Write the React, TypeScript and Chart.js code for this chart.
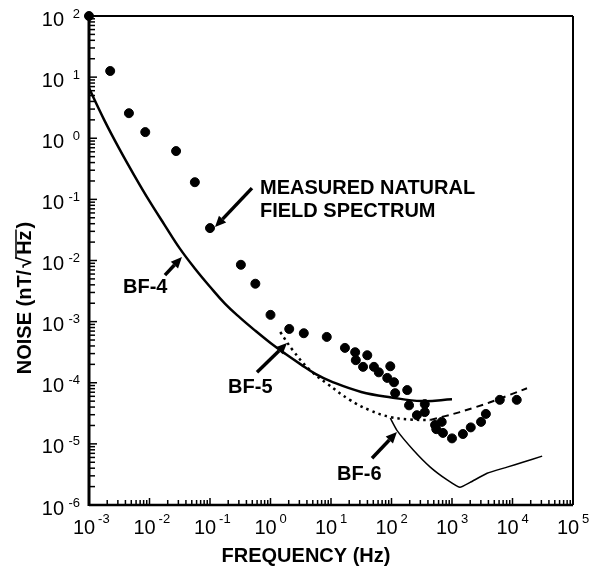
import { useEffect, useRef } from "react";
import { Chart, registerables } from "chart.js";

Chart.register(...registerables);

// Measured natural field spectrum (dots)
const measuredFreq = [
  0.001, 0.00224, 0.00457, 0.00851, 0.0275, 0.0562, 0.1, 0.324, 0.562, 1, 2.04, 3.55, 8.51,
  17.0, 25.1, 39.8, 25.7, 33.9, 51.3, 61.7, 95.5, 85.1, 110, 115, 182, 195, 355, 355, 263,
  525, 676, 550, 708, 1000, 1514, 2042, 3020, 3631, 6166, 11750,
];
const measuredNoise = [
  100, 12.6, 2.57, 1.26, 0.617, 0.191, 0.0339, 0.00851, 0.00417, 0.00129, 7.59e-4, 6.46e-4, 5.62e-4,
  3.72e-4, 3.16e-4, 2.82e-4, 2.34e-4, 1.82e-4, 1.82e-4, 1.48e-4, 1.86e-4, 1.2e-4, 1.02e-4, 6.76e-5, 7.59e-5, 4.27e-5, 4.47e-5, 3.31e-5, 2.95e-5,
  2.04e-5, 2.29e-5, 1.74e-5, 1.51e-5, 1.23e-5, 1.45e-5, 1.86e-5, 2.29e-5, 3.09e-5, 5.25e-5, 5.25e-5,
];

// BF-4 (thick solid)
const bf4Freq = [0.001, 0.00178, 0.00316, 0.00562, 0.01, 0.0178, 0.0316, 0.0562, 0.1, 0.178, 0.316, 0.562, 1, 1.78, 3.16, 5.62, 10, 31.6, 100, 316, 1000];
const bf4Noise = [6.61, 2.0, 0.676, 0.245, 0.0933, 0.038, 0.0158, 0.00741, 0.00372, 0.00195, 0.00115, 7.08e-4, 4.47e-4, 2.95e-4, 2.0e-4, 1.38e-4, 1.05e-4, 7.08e-5, 5.75e-5, 5.01e-5, 5.37e-5];

// BF-5 (dotted, then dashed at high frequency)
const bf5Freq = [1.45, 2.34, 4.47, 8.51, 20.4, 43.7, 95.5, 204, 437];
const bf5Noise = [6.76e-4, 3.39e-4, 1.62e-4, 9.77e-5, 5.25e-5, 3.55e-5, 2.75e-5, 2.51e-5, 2.45e-5];
const bf5HighFreq = [437, 1349, 4266, 17378];
const bf5HighNoise = [2.45e-5, 3.31e-5, 4.79e-5, 8.13e-5];

// BF-6 (thin solid)
const bf6Freq = [95.5, 123, 229, 437, 832, 1349, 1995, 3802, 8128, 14791, 30903];
const bf6Noise = [2.63e-5, 1.66e-5, 7.94e-6, 4.17e-6, 2.57e-6, 1.95e-6, 2.34e-6, 3.31e-6, 4.17e-6, 5.01e-6, 6.31e-6];

// Axis decades (exponents of ten)
const xExponents = [-3, -2, -1, 0, 1, 2, 3, 4, 5];
const yExponents = [-6, -5, -4, -3, -2, -1, 0, 1, 2];

const xTitle = "FREQUENCY (Hz)";
const yTitleParts = ["NOISE (nT/", "\u221A", "Hz", ")"];

// Annotation labels (data coordinates)
const labelTexts = [["MEASURED NATURAL", "FIELD SPECTRUM"], ["BF-4"], ["BF-5"], ["BF-6"]];
const labelFreq = [0.67, 0.00365, 0.199, 12.6];
const labelNoise = [[0.122, 0.0513], [0.00293], [6.76e-5], [2.55e-6]];
// Arrows: from -> to (data coordinates)
const arrowFromFreq = [0.494, 0.018, 0.598, 47.6];
const arrowFromNoise = [0.153, 0.00577, 1.49e-4, 5.83e-6];
const arrowToFreq = [0.121, 0.0344, 1.875, 123];
const arrowToNoise = [0.0352, 0.01138, 4.45e-4, 1.56e-5];

const FONT = '"Liberation Sans", Arial, Helvetica, sans-serif';

const zip = (xs: number[], ys: number[]) => xs.map((x, i) => ({ x, y: ys[i] }));

const overlayPlugin = {
  id: "overlay",
  afterDraw(chart: any) {
    const { ctx, chartArea: a, scales } = chart;
    const xs = scales.x;
    const ys = scales.y;
    ctx.save();
    ctx.strokeStyle = "#000";
    ctx.fillStyle = "#000";
    const line = (x1: number, y1: number, x2: number, y2: number, w: number) => {
      ctx.lineWidth = w;
      ctx.beginPath();
      ctx.moveTo(x1, y1);
      ctx.lineTo(x2, y2);
      ctx.stroke();
    };
    // frame
    line(a.left, a.top, a.right, a.top, 2);
    line(a.right, a.top, a.right, a.bottom, 2);
    line(a.left, a.bottom, a.right, a.bottom, 2.5);
    line(a.left, a.top - 1, a.left, a.bottom + 1, 3);

    // inward minor/major ticks
    for (let e = yExponents[0]; e < yExponents[yExponents.length - 1]; e++) {
      for (let m = 1; m < 10; m++) {
        const py = ys.getPixelForValue(m * Math.pow(10, e));
        line(a.left, py, a.left + (m === 1 ? 8 : 6), py, 1.5);
      }
    }
    for (let e = xExponents[0]; e < xExponents[xExponents.length - 1]; e++) {
      for (let m = 1; m < 10; m++) {
        const px = xs.getPixelForValue(m * Math.pow(10, e));
        line(px, a.bottom, px, a.bottom - (m === 1 ? 7 : 5), 1.5);
      }
    }

    // tick labels
    ctx.textBaseline = "middle";
    for (const e of yExponents) {
      const py = ys.getPixelForValue(Math.pow(10, e));
      ctx.font = `20px ${FONT}`;
      ctx.textAlign = "right";
      ctx.fillText("10", a.left - 25, py + 4);
      ctx.font = `13px ${FONT}`;
      ctx.fillText(String(e), a.left - 9, py - 2);
    }
    for (const e of xExponents) {
      const px = xs.getPixelForValue(Math.pow(10, e));
      ctx.font = `20px ${FONT}`;
      ctx.textAlign = "center";
      ctx.fillText("10", px - 5, a.bottom + 23);
      const w = ctx.measureText("10").width;
      ctx.font = `13px ${FONT}`;
      ctx.textAlign = "left";
      ctx.fillText(String(e), px - 5 + w / 2 + 3, a.bottom + 14);
    }

    // axis titles
    ctx.font = `bold 20px ${FONT}`;
    ctx.textAlign = "center";
    ctx.fillText(xTitle, (a.left + a.right) / 2 - 25, a.bottom + 51);

    ctx.save();
    ctx.translate(25, 298);
    ctx.rotate(-Math.PI / 2);
    ctx.textAlign = "left";
    ctx.textBaseline = "middle";
    const gap = 2;
    const widths = yTitleParts.map((t) => ctx.measureText(t).width);
    const total = widths.reduce((s, w) => s + w, 0) + gap * (yTitleParts.length - 1);
    let cx = -total / 2;
    yTitleParts.forEach((t, i) => {
      ctx.fillText(t, cx, 0);
      if (i === 2) {
        // radical overline over "Hz"
        ctx.lineWidth = 1.5;
        ctx.beginPath();
        ctx.moveTo(cx - gap - 2, -9);
        ctx.lineTo(cx + widths[i] + 1, -9);
        ctx.stroke();
      }
      cx += widths[i] + gap;
    });
    ctx.restore();

    // annotations
    ctx.font = `bold 20px ${FONT}`;
    ctx.textAlign = "left";
    ctx.textBaseline = "alphabetic";
    labelTexts.forEach((lines, i) => {
      const px = xs.getPixelForValue(labelFreq[i]);
      lines.forEach((t, j) => {
        ctx.fillText(t, px, ys.getPixelForValue(labelNoise[i][j]));
      });
    });
    arrowFromFreq.forEach((_, i) => {
      const x1 = xs.getPixelForValue(arrowFromFreq[i]);
      const y1 = ys.getPixelForValue(arrowFromNoise[i]);
      const x2 = xs.getPixelForValue(arrowToFreq[i]);
      const y2 = ys.getPixelForValue(arrowToNoise[i]);
      const ang = Math.atan2(y2 - y1, x2 - x1);
      const hl = 11;
      const hw = 5;
      const bx = x2 - hl * Math.cos(ang);
      const by = y2 - hl * Math.sin(ang);
      ctx.lineCap = "butt";
      line(x1, y1, bx, by, 3.5);
      ctx.beginPath();
      ctx.moveTo(x2, y2);
      ctx.lineTo(bx + hw * Math.sin(ang), by - hw * Math.cos(ang));
      ctx.lineTo(bx - hw * Math.sin(ang), by + hw * Math.cos(ang));
      ctx.closePath();
      ctx.fill();
    });
    ctx.restore();
  },
};

export default function App() {
  const ref = useRef<HTMLCanvasElement | null>(null);
  useEffect(() => {
    if (!ref.current) return;
    const chart = new Chart(ref.current, {
      type: "scatter",
      data: {
        datasets: [
          {
            label: "BF-4",
            data: zip(bf4Freq, bf4Noise),
            showLine: true,
            borderColor: "#000",
            borderWidth: 2.5,
            pointRadius: 0,
            tension: 0.4,
          },
          {
            label: "BF-5",
            data: zip(bf5Freq, bf5Noise),
            showLine: true,
            borderColor: "#000",
            borderWidth: 2.5,
            borderDash: [2.5, 4],
            pointRadius: 0,
            tension: 0.4,
          },
          {
            label: "BF-5 high",
            data: zip(bf5HighFreq, bf5HighNoise),
            showLine: true,
            borderColor: "#000",
            borderWidth: 2,
            borderDash: [7, 5],
            pointRadius: 0,
            tension: 0.2,
          },
          {
            label: "BF-6",
            data: zip(bf6Freq, bf6Noise),
            showLine: true,
            borderColor: "#000",
            borderWidth: 1.5,
            pointRadius: 0,
            tension: 0.15,
          },
          {
            label: "Measured natural field spectrum",
            data: zip(measuredFreq, measuredNoise),
            showLine: false,
            backgroundColor: "#000",
            borderColor: "#000",
            pointRadius: 4.5,
            clip: false as any,
          },
        ],
      },
      options: {
        responsive: false,
        animation: false,
        layout: { padding: { left: 89, right: 23, top: 16, bottom: 64 } },
        plugins: { legend: { display: false }, tooltip: { enabled: false } },
        scales: {
          x: {
            type: "logarithmic",
            min: 1e-3,
            max: 1e5,
            ticks: { display: false },
            grid: { display: false, drawTicks: false },
            border: { display: false },
            afterFit: (s: any) => {
              s.height = 0;
            },
          },
          y: {
            type: "logarithmic",
            min: 1e-6,
            max: 1e2,
            ticks: { display: false },
            grid: { display: false, drawTicks: false },
            border: { display: false },
            afterFit: (s: any) => {
              s.width = 0;
            },
          },
        },
      },
      plugins: [overlayPlugin],
    });
    return () => chart.destroy();
  }, []);
  return (
    <div style={{ position: "absolute", left: 0, top: 0, width: 596, height: 569, background: "#fff" }}>
      <canvas ref={ref} width={596} height={569} />
    </div>
  );
}
